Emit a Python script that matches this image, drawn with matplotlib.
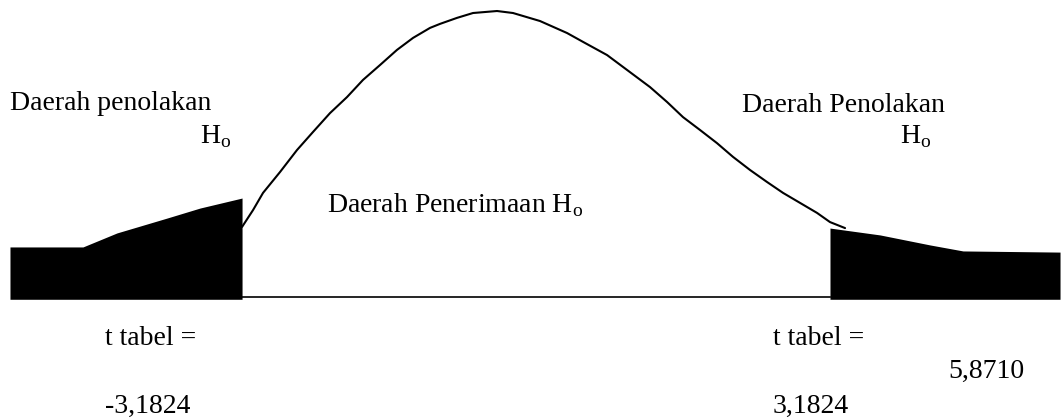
import matplotlib
matplotlib.use("Agg")
import matplotlib.pyplot as plt

plt.rcParams["font.family"] = ["Liberation Serif", "DejaVu Serif"]
plt.rcParams["mathtext.fontset"] = "custom"
plt.rcParams["mathtext.rm"] = "Liberation Serif"

# critical t value (two-tailed) and the computed statistic
t_crit = 3.1824
t_hitung = "5,8710"

# acceptance-region curve: t value vs. relative height (peak = 1)
curve_t = [-3.182, -3.063, -2.955, -2.771, -2.587, -2.414, -2.230, -2.046,
           -1.873, -1.689, -1.505, -1.331, -1.147, -1.039, -0.855, -0.682,
           -0.422, -0.249, 0.043, 0.336, 0.509, 0.769, 0.985, 1.234,
           1.418, 1.591, 1.775, 1.959, 2.132, 2.317, 2.501, 2.674,
           2.858, 3.042, 3.182, 3.345]
curve_h = [0.245, 0.304, 0.364, 0.437, 0.514, 0.577, 0.643, 0.699,
           0.759, 0.811, 0.864, 0.906, 0.941, 0.955, 0.976, 0.993,
           1.000, 0.993, 0.965, 0.923, 0.892, 0.846, 0.794, 0.734,
           0.682, 0.629, 0.584, 0.538, 0.490, 0.444, 0.402, 0.364,
           0.329, 0.294, 0.262, 0.241]

# shaded rejection tails
left_t = [-5.694, -4.904, -4.536, -3.994, -3.637, -3.182]
left_h = [0.175, 0.175, 0.224, 0.276, 0.311, 0.346]
right_t = [3.182, 3.724, 4.265, 4.622, 5.672]
right_h = [0.241, 0.217, 0.182, 0.161, 0.157]

fig = plt.figure(figsize=(10.64, 4.19), dpi=100)
ax = fig.add_axes([0, 0, 1, 1])
ax.set_xlim(-5.802, 5.715)
ax.set_ylim(-0.4266, 1.0385)
ax.axis("off")

ax.fill_between(left_t, left_h, -0.008, color="black", lw=0)
ax.fill_between(right_t, right_h, -0.008, color="black", lw=0)
ax.plot(curve_t, curve_h, color="black", lw=1.5,
        solid_capstyle="round", solid_joinstyle="round")
ax.plot([-t_crit, t_crit], [0, 0], color="black", lw=1.2)

fs = 20
H0 = "H$_{\\rm o}$"
ax.text(-5.694, 0.654, "Daerah penolakan", fontsize=fs, va="baseline")
ax.text(-3.637, 0.538, H0, fontsize=fs, va="baseline")
ax.text(2.230, 0.647, "Daerah Penolakan", fontsize=fs, va="baseline")
ax.text(3.940, 0.538, H0, fontsize=fs, va="baseline")
ax.text(-2.262, 0.297, "Daerah Penerimaan " + H0, fontsize=fs, va="baseline")

crit_text = f"{t_crit:.4f}".replace(".", ",")
ax.text(-4.666, -0.168, "t tabel =", fontsize=fs, va="baseline")
ax.text(-4.666, -0.406, "-" + crit_text, fontsize=fs, va="baseline")
ax.text(2.565, -0.168, "t tabel =", fontsize=fs, va="baseline")
ax.text(2.565, -0.406, crit_text, fontsize=fs, va="baseline")
ax.text(4.460, -0.283, t_hitung, fontsize=fs, va="baseline")

fig.savefig("out.png", dpi=100)
